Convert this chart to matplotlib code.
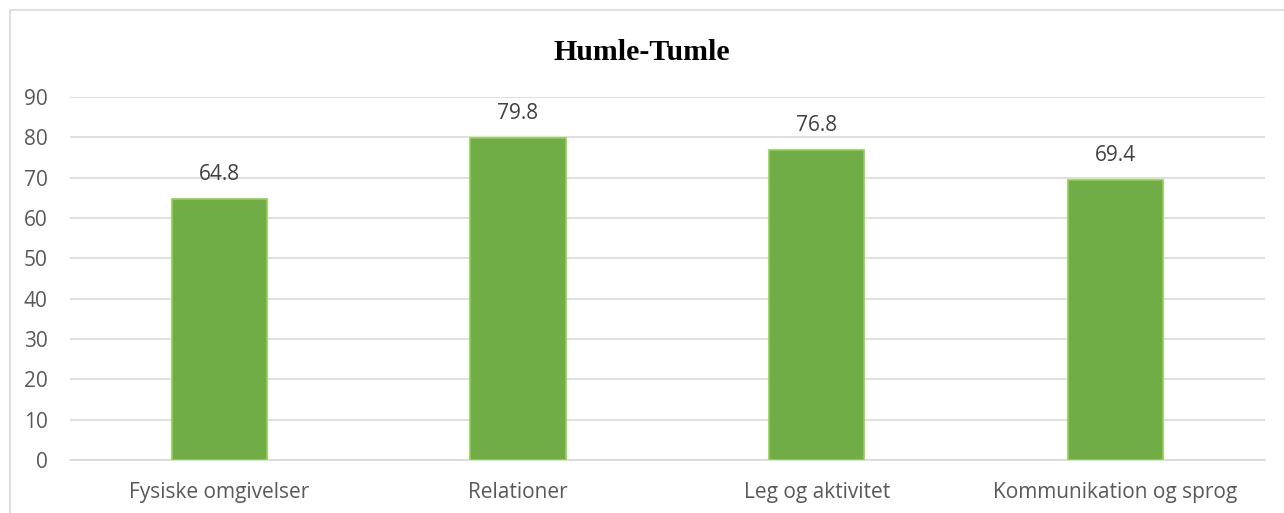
import matplotlib.pyplot as plt
import matplotlib.patches as mpatches

categories = ['Fysiske omgivelser', 'Relationer', 'Leg og aktivitet', 'Kommunikation og sprog']
values = [64.8, 79.8, 76.8, 69.4]
yticks = [0, 10, 20, 30, 40, 50, 60, 70, 80, 90]

plt.rcParams['font.family'] = ['Open Sans', 'DejaVu Sans']

fig = plt.figure(figsize=(12.84, 5.13), dpi=100)
ax = fig.add_axes([0.0545, 0.1033, 0.9305, 0.7077])

# outer chart frame (cut off on the right and bottom as in the picture)
fig.patches.append(mpatches.Rectangle((10 / 1284, -0.1), 1.2, 1 - 10 / 513 + 0.1,
                                      transform=fig.transFigure, fill=False,
                                      edgecolor='#d9d9d9', linewidth=1.2))

x = range(len(categories))
bars = ax.bar(x, values, width=0.32, color='#70ad47', edgecolor='#92d050', linewidth=1.2, zorder=3)

for b, v in zip(bars, values):
    ax.annotate(f'{v:.1f}', (b.get_x() + b.get_width() / 2, v), xytext=(0, 10),
                textcoords='offset points', ha='center', va='bottom',
                fontsize=15, color='#404040')

ax.set_xlim(-0.5, len(categories) - 0.5)
ax.set_ylim(0, 90)
ax.set_yticks(yticks)
ax.set_xticks(list(x))
ax.set_xticklabels(categories)
ax.tick_params(length=0, labelsize=15, labelcolor='#595959')
ax.tick_params(axis='x', pad=16)
ax.tick_params(axis='y', pad=16)
ax.grid(axis='y', color='#d9d9d9', linewidth=1.2, zorder=0)
for s in ['top', 'right', 'left']:
    ax.spines[s].set_visible(False)
ax.spines['bottom'].set_color('#d9d9d9')
ax.spines['bottom'].set_linewidth(1.2)

fig.text(0.5, 1 - 53 / 513, 'Humle-Tumle', ha='center', va='center',
         fontsize=21.5, fontweight='bold', family='Liberation Serif', color='black')

fig.savefig('out.png', dpi=100, facecolor='white')
